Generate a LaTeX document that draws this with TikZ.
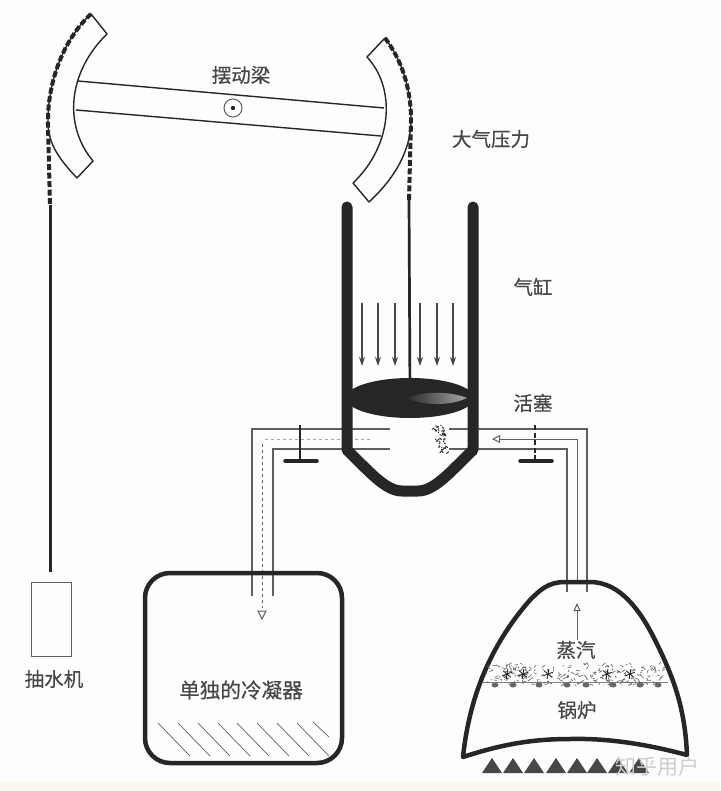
\documentclass[tikz,border=0pt]{standalone}
\usepackage{fontspec}
\setmainfont{Noto Sans CJK SC}
\newfontfamily\labelfont[FakeBold=0.5]{Noto Sans CJK SC}
\usepackage{tikz}
\usetikzlibrary{positioning, arrows.meta, calc}
\definecolor{inkdark}{RGB}{38, 38, 38}
\definecolor{inkgray}{RGB}{95, 95, 95}
\definecolor{paper}{RGB}{253, 253, 252}
\definecolor{strip}{RGB}{251, 246, 238}
\definecolor{markgray}{RGB}{205, 205, 205}
\tikzset{
  labeltext/.style={font=\labelfont\fontsize{19.5}{20}\selectfont, text=inkdark!85, inner sep=0pt},
  wall/.style={draw=inkdark, line width=11pt, line cap=round},
  vessel/.style={draw=inkdark, line width=4.5pt, line join=round},
  pipe/.style={draw=inkgray, line width=1.2pt},
  flow/.style={draw=gray!70, line width=1pt},
  chain/.style={draw=inkdark, line width=4pt, dash pattern=on 6pt off 2.5pt},
  foam/.style={draw=inkgray, line width=0.6pt},
  valvebar/.style={draw=inkdark, line width=3.5pt, line cap=round},
  blockline/.style={draw=inkdark, line width=1.4pt, line join=round}
}
\begin{document}
\begin{tikzpicture}[x=1pt, y=-1pt]
  \useasboundingbox (0,0) rectangle (720,791);
  \fill[paper] (0,0) rectangle (720,791);
  \fill[strip] (0,782) rectangle (720,791);

  % Beam and its curved ends
  \draw[blockline] (91,14) -- (107,34) .. controls (68,72) and (63,125) .. (93,161)
        -- (77,178) .. controls (60,160) and (49,145) .. (48,125)
        .. controls (47,80) and (65,38) .. (91,14) -- cycle;
  \draw[blockline] (385,38) -- (367,57) .. controls (396,88) and (393,145) .. (353,183)
        -- (369,202) .. controls (395,178) and (411,150) .. (411,120)
        .. controls (411,85) and (400,58) .. (385,38) -- cycle;
  \draw[blockline] (78,81) -- (384,108);
  \draw[blockline] (76,110) -- (381,136);
  \node[draw=inkgray, line width=1pt, circle, minimum size=18pt, inner sep=0pt] (pivot) at (233,108) {};
  \fill[inkdark] (pivot.center) circle (2.2pt);

  % Chains
  \coordinate (chainL) at (50,205);
  \coordinate (chainLend) at (50,572);
  \coordinate (chainR) at (409,200);
  \coordinate (piston) at (410,398);
  \draw[chain] (91,14) .. controls (65,38) and (47,80) .. (48,125) -- (chainL);
  \draw[chain] (385,38) .. controls (400,58) and (411,85) .. (411,120) -- (chainR);
  \draw[draw=inkdark, line width=3pt] (chainL) -- (chainLend);
  \draw[draw=inkdark, line width=2.7pt] (chainR) -- (piston);

  % Pump
  \node[draw=inkgray, line width=0.8pt, minimum width=40pt, minimum height=74pt, inner sep=0pt] (pump) at (51,619) {};

  % Pressure arrows
  \foreach \xx in {362,378,395,420,437,453}{
    \draw[line width=1.2pt, -{Stealth[length=9pt,width=6pt]}, inkdark!85] (\xx,303) -- (\xx,366);
  }

  % Pipes
  \draw[pipe] (390,429) -- (252,429) -- (252,596);
  \draw[pipe] (390,449) -- (273,449) -- (273,596);
  \draw[pipe] (449,429) -- (587,429) -- (587,592);
  \draw[pipe] (449,449) -- (567,449) -- (567,592);
  \draw[flow, dashed] (370,439) -- (265,439);
  \draw[flow, dashed, inkgray] (262,444) -- (262,608);
  \draw[inkgray, line width=1pt, fill=white] (258,611) -- (266,611) -- (262,619) -- cycle;
  \draw[flow, -{Triangle[open,fill=white,length=8pt,width=8pt]}, inkgray] (577,580) -- (577,439) -- (492,439);

  % Cylinder and piston
  \draw[wall, line join=round] (347,207) -- (347,450)
        .. controls (368,470) and (385,491) .. (402,491) -- (418,491)
        .. controls (435,491) and (452,470) .. (473,450) -- (473,207);
  \draw[pipe] (355,429) -- (390,429);
  \draw[pipe] (355,449) -- (390,449);
  \fill[inkdark] (410,398) ellipse [x radius=64pt, y radius=20pt];
  \shade[left color=inkdark, right color=gray!70]
        (405,398) .. controls (425,391) and (450,391) .. (467,398)
        .. controls (450,406) and (425,406) .. (405,398) -- cycle;

  % Valves
  \node[inner sep=0pt, minimum size=0pt] (valveL) at (300,461) {};
  \node[inner sep=0pt, minimum size=0pt] (valveR) at (535,461) {};
  \draw[inkdark, line width=1.2pt] (300,425) -- (valveL);
  \draw[inkdark, line width=1.4pt, dash pattern=on 5pt off 2.5pt] (535,425) -- (valveR);
  \draw[valvebar] (285,461) -- (317,461);
  \draw[valvebar] (520,461) -- (552,461);

  % Steam jet
  \pgfmathsetseed{17}
  \foreach \i in {1,...,46}{
    \pgfmathsetmacro{\py}{425+28*rnd}
    \pgfmathsetmacro{\px}{432+(\py-425)*0.25+11*rnd}
    \draw[inkdark, line width=0.9pt] (\px,\py) -- ++(-3+6*rnd,-2+4*rnd);
  }

  % Condenser
  \node[vessel, rounded corners=25pt, minimum width=197pt, minimum height=190pt, inner sep=0pt] (condenser) at (243.5,668) {};
  \foreach \xx in {158,178,198,218,237,257,277,297}{
    \draw[draw=inkgray, line width=0.7pt] (\xx,723) -- ++(32,33);
  }
  \draw[draw=inkgray, line width=0.7pt] (313,722) -- (329,737);

  % Boiler
  \draw[vessel] (463,757) .. controls (470,690) and (495,640) .. (530,600)
        .. controls (540,590) and (548,582) .. (565,582) -- (590,582)
        .. controls (620,582) and (640,610) .. (655,640)
        .. controls (675,680) and (685,710) .. (687,755)
        .. controls (650,745) and (610,738) .. (570,739)
        .. controls (530,739) and (500,745) .. (463,757) -- cycle;
  \draw[flow, -{Triangle[open,fill=white,length=8pt,width=7pt]}, inkgray] (577,640) -- (577,603);
  \foreach \xx in {492,513,534,556,577,597,618,639}{
    \fill[inkdark!85] (\xx-10,773) -- (\xx+10,773) -- (\xx,758) -- cycle;
  }

  % Water surface
  \draw[draw=gray, line width=0.8pt] (483,682) -- (668,682);
  \foreach \i in {1,...,260}{
    \pgfmathsetmacro{\px}{487+178*rnd}
    \pgfmathsetmacro{\py}{664+21*rnd}
    \draw[foam] (\px,\py) -- ++(-4+8*rnd,-3+6*rnd);
  }
  \foreach \xx in {495,513,539,567,586,613,640,658}{
    \fill[inkdark!70] (\xx,685) ellipse [x radius=3.5pt, y radius=2.5pt];
  }
  \foreach \xx in {507,523,548,607,630}{
    \foreach \a in {20,80,140,200,260,320}{
      \draw[inkdark, line width=0.9pt] (\xx,674) -- ++(\a:5pt);
    }
  }

  % Labels
  \node[labeltext] (beamlabel) at (241,75) {摆动梁};
  \node[labeltext] (airlabel) at (491,139) {大气压力};
  \node[labeltext] (cylinderlabel) at (533,287) {气缸};
  \node[labeltext] (pistonlabel) at (533,403) {活塞};
  \node[labeltext] (pumplabel) at (54,679) {抽水机};
  \node[labeltext, font=\labelfont\fontsize{20.6}{21}\selectfont] (condenserlabel) at (241,690) {单独的冷凝器};
  \node[labeltext] (steamlabel) at (576,650) {蒸汽};
  \node[labeltext] (boilerlabel) at (577,710) {锅炉};
  \node[inner sep=0pt, text=markgray, font=\fontsize{21}{21}\selectfont] (watermark) at (657,767) {知乎用户};
\end{tikzpicture}
\end{document}
